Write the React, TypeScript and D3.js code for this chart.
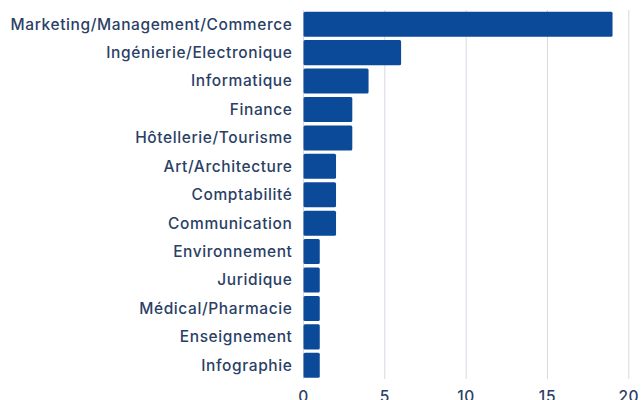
import React from "react";
import * as d3 from "d3";

const categories = [
  "Marketing/Management/Commerce",
  "Ingénierie/Electronique",
  "Informatique",
  "Finance",
  "Hôtellerie/Tourisme",
  "Art/Architecture",
  "Comptabilité",
  "Communication",
  "Environnement",
  "Juridique",
  "Médical/Pharmacie",
  "Enseignement",
  "Infographie",
];
const values = [19, 6, 4, 3, 3, 2, 2, 2, 1, 1, 1, 1, 1];
const ticks = [0, 5, 10, 15, 20];

export default function App() {
  const W = 641, H = 400;
  const x = d3.scaleLinear().domain([0, 20]).range([303.5, 628.8]);
  const y = d3.scaleBand<string>().domain(categories).range([11.7, 377.8]).paddingInner(0.12).paddingOuter(0);
  const font = "Inter, 'Open Sans', sans-serif";
  const textColor = "#2b3f66";
  return (
    <svg width={W} height={H} style={{ position: "absolute", left: 0, top: 0 }}>
      {ticks.map((t) => (
        <line key={"g" + t} x1={x(t)} x2={x(t)} y1={10} y2={379} stroke="#d5dae2" strokeWidth={1} />
      ))}
      {categories.map((c, i) => (
        <rect
          key={c}
          x={x(0)}
          y={y(c)!}
          width={x(values[i]) - x(0)}
          height={y.bandwidth()}
          rx={1.5}
          fill="#0a4a99"
        />
      ))}
      {categories.map((c) => (
        <text
          key={"l" + c}
          x={292.5}
          y={y(c)! + y.bandwidth() / 2}
          dy="0.35em"
          textAnchor="end"
          fontFamily={font}
          fontSize={15.5}
          fontWeight={500}
          letterSpacing={0.6}
          fill={textColor}
        >
          {c}
        </text>
      ))}
      {ticks.map((t) => (
        <text
          key={"t" + t}
          x={x(t)}
          y={402}
          textAnchor="middle"
          fontFamily={font}
          fontSize={15.5}
          fontWeight={500}
          letterSpacing={0.6}
          fill={textColor}
        >
          {t}
        </text>
      ))}
    </svg>
  );
}
